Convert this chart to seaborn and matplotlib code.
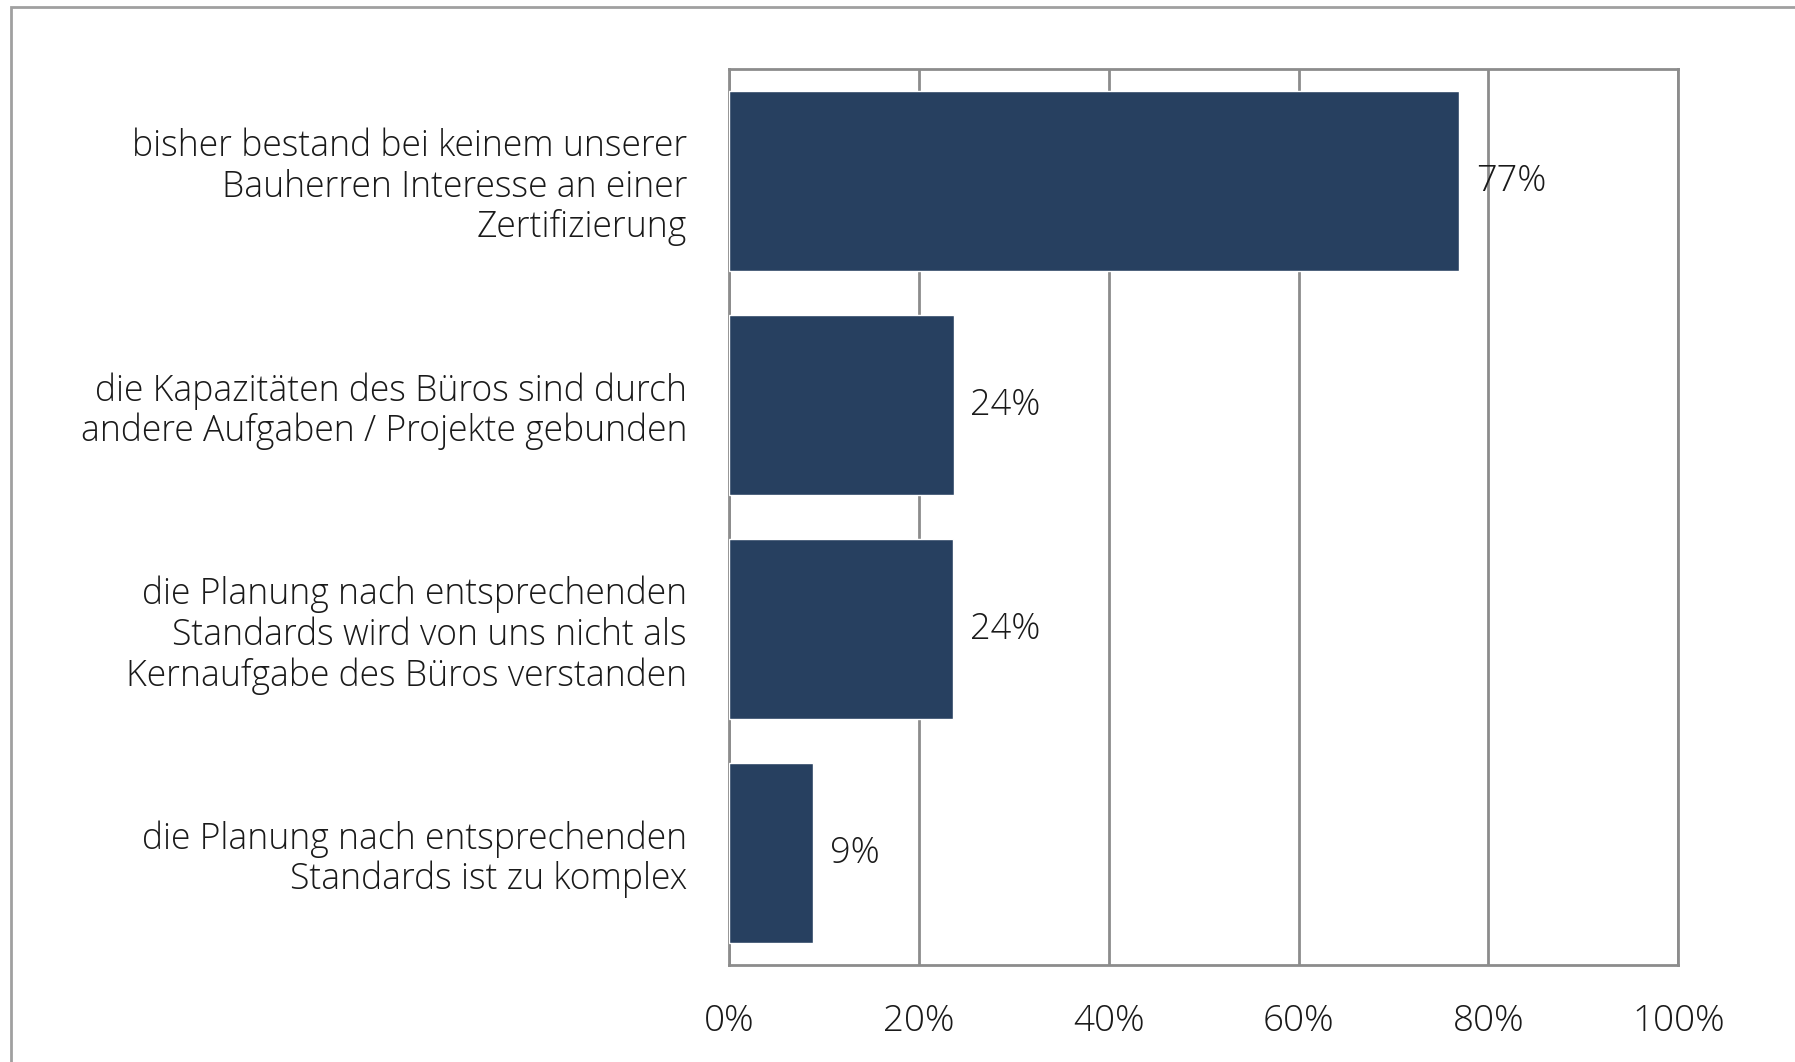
import matplotlib
matplotlib.use("Agg")
import matplotlib.pyplot as plt
import seaborn as sns
import pandas as pd
from matplotlib.patches import Rectangle
from matplotlib.ticker import FuncFormatter

# data
categories = [
    "bisher bestand bei keinem unserer\nBauherren Interesse an einer\nZertifizierung",
    "die Kapazitäten des Büros sind durch\nandere Aufgaben / Projekte gebunden",
    "die Planung nach entsprechenden\nStandards wird von uns nicht als\nKernaufgabe des Büros verstanden",
    "die Planung nach entsprechenden\nStandards ist zu komplex",
]
shares = [76.9, 23.7, 23.6, 8.9]
x_ticks = [0, 20, 40, 60, 80, 100]

bar_color = "#274060"
grid_color = "#8c8c8c"

sns.set_style("white")
plt.rcParams["font.family"] = ["Open Sans", "DejaVu Sans"]
plt.rcParams["font.weight"] = "light"
plt.rcParams["text.color"] = "#1a1a1a"

df = pd.DataFrame({"reason": categories, "share": shares})

fig = plt.figure(figsize=(17.95, 10.62), dpi=100)
ax = fig.add_axes([0.406, 0.0913, 0.529, 0.8437])

sns.barplot(data=df, x="share", y="reason", color=bar_color, orient="h",
            width=0.8, saturation=1, ax=ax, zorder=3)

ax.set_xlim(0, 100)
ax.set_xticks(x_ticks)
ax.xaxis.set_major_formatter(FuncFormatter(lambda v, p: f"{v:.0f}%"))
ax.grid(axis="x", color=grid_color, linewidth=2, zorder=0)
ax.set_axisbelow(True)
ax.set_xlabel("")
ax.set_ylabel("")

for s in ax.spines.values():
    s.set_visible(True)
    s.set_color(grid_color)
    s.set_linewidth(2)

ax.tick_params(axis="x", length=0, pad=27, labelsize=26.5, colors="#1a1a1a")
ax.tick_params(axis="y", length=0, pad=30, labelsize=25.6, colors="#1a1a1a")
for t in ax.get_yticklabels():
    t.set_linespacing(1.12)

for i, v in enumerate(shares):
    ax.annotate(f"{v:.0f}%", xy=(v, i), xytext=(12, 0), textcoords="offset points",
                ha="left", va="center", fontsize=26, color="#1a1a1a", zorder=4)

# outer chart frame (right/bottom edges run off the image)
fig.patches.append(Rectangle((0.0062, -0.05), 1.2, 1.0434, transform=fig.transFigure,
                             fill=False, edgecolor="#a0a0a0", linewidth=2))

fig.savefig("out.png", dpi=100)
